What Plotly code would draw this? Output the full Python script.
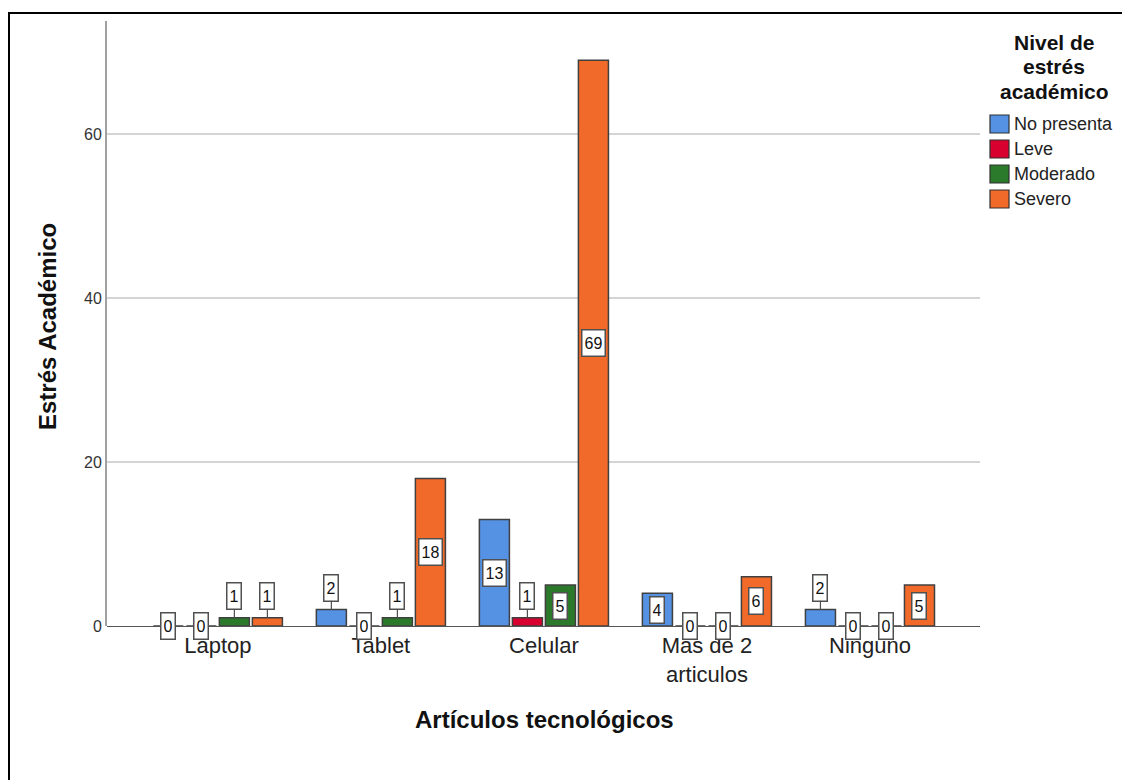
import plotly.graph_objects as go

categories = ["Laptop", "Tablet", "Celular", "Más de 2<br>articulos", "Ninguno"]
series_names = ["No presenta", "Leve", "Moderado", "Severo"]
no_presenta = [0, 2, 13, 4, 2]
leve = [0, 0, 1, 0, 0]
moderado = [1, 1, 5, 0, 0]
severo = [1, 18, 69, 6, 5]
series_values = [no_presenta, leve, moderado, severo]
colors = ["#5592E3", "#D7002F", "#2B7A2B", "#F26A2A"]
y_ticks = [0, 20, 40, 60]

W, H = 1122, 780
L, R, T, B = 107, 980, 21, 626  # plot area in page pixels
FONT = "Liberation Sans, Arial, sans-serif"
BARGAP = 0.19
BARGROUPGAP = 0.09


def px_x(p):
    return (p - L) / (R - L)


def px_y(p):
    return (B - p) / (B - T)


fig = go.Figure()
for name, vals, col in zip(series_names, series_values, colors):
    fig.add_trace(go.Bar(
        x=list(range(len(categories))), y=vals, name=name,
        marker=dict(color=col, line=dict(color="#404040", width=1.5)),
        showlegend=False, hoverinfo="x+y+name",
    ))

slot = (1 - BARGAP) / len(series_names)
annotations = []
for j, vals in enumerate(series_values):
    for i, v in enumerate(vals):
        xpos = i + (j - (len(series_names) - 1) / 2) * slot
        common = dict(
            x=xpos, xref="x", yref="y", text=str(v),
            font=dict(family=FONT, size=16, color="#111"),
            bgcolor="white", bordercolor="#505050", borderwidth=1.5, borderpad=2,
            height=21,
        )
        if v == 0:
            annotations.append(dict(y=0, showarrow=False, yanchor="middle", **common))
        elif v < 3:
            annotations.append(dict(y=v, showarrow=True, arrowhead=0, arrowwidth=1.2,
                                    arrowcolor="#505050", ax=0, ay=-22, **common))
        else:
            annotations.append(dict(y=v / 2, showarrow=False, yanchor="middle", **common))

# legend title
for line, yp in zip(["Nivel de", "estrés", "académico"], [42, 66.5, 91]):
    annotations.append(dict(
        x=px_x(1054), y=px_y(yp), xref="paper", yref="paper", text=line,
        showarrow=False, xanchor="center", yanchor="middle", height=22, borderpad=0,
        font=dict(family=FONT, size=21, color="#111", weight="bold"),
    ))

shapes = []
for k, (name, col) in enumerate(zip(series_names, colors)):
    yc = 124 + 25 * k
    shapes.append(dict(
        type="rect", xref="paper", yref="paper",
        x0=px_x(990), x1=px_x(1009), y0=px_y(yc + 9), y1=px_y(yc - 9),
        fillcolor=col, line=dict(color="#303030", width=1.2),
    ))
    annotations.append(dict(
        x=px_x(1012), y=px_y(yc), xref="paper", yref="paper", text=name,
        showarrow=False, xanchor="left", yanchor="middle",
        font=dict(family=FONT, size=18, color="#222"),
    ))

# axis titles
annotations.append(dict(
    x=px_x(544), y=px_y(719), xref="paper", yref="paper", text="Artículos tecnológicos",
    showarrow=False, xanchor="center", yanchor="middle",
    font=dict(family=FONT, size=24, color="#111", weight="bold"),
))
annotations.append(dict(
    x=px_x(47), y=px_y(326), xref="paper", yref="paper", text="Estrés Académico",
    showarrow=False, xanchor="center", yanchor="middle", textangle=-90,
    font=dict(family=FONT, size=24, color="#111", weight="bold"),
))

# outer frame
shapes.append(dict(
    type="rect", xref="paper", yref="paper",
    x0=px_x(9), y0=px_y(13), x1=px_x(1140), y1=px_y(800),
    line=dict(color="#000", width=2), fillcolor="rgba(0,0,0,0)", layer="above",
))

fig.update_layout(
    width=W, height=H,
    margin=dict(l=L, r=W - R, t=T, b=H - B),
    paper_bgcolor="white", plot_bgcolor="white",
    barmode="group", bargap=BARGAP, bargroupgap=BARGROUPGAP,
    showlegend=False,
    annotations=annotations, shapes=shapes,
    font=dict(family=FONT),
)
fig.update_xaxes(
    tickmode="array", tickvals=list(range(len(categories))), ticktext=categories,
    range=[-0.68, 4.675], showgrid=False, zeroline=False,
    showline=False, ticks="", ticklabelstandoff=4,
    tickfont=dict(family=FONT, size=22, color="#222"),
)
fig.update_yaxes(
    range=[0, 73.8], tickvals=y_ticks, showgrid=True, gridcolor="#d4d4d4", gridwidth=2,
    zeroline=True, zerolinecolor="#555", zerolinewidth=1.2,
    showline=True, linecolor="#a0a0a0", linewidth=2, ticks="",
    tickfont=dict(family=FONT, size=16, color="#333"),
)

fig.write_html(
    "out.html",
    config={"displayModeBar": False},
    post_script="document.body.style.margin='0';document.body.style.overflow='hidden';",
)
